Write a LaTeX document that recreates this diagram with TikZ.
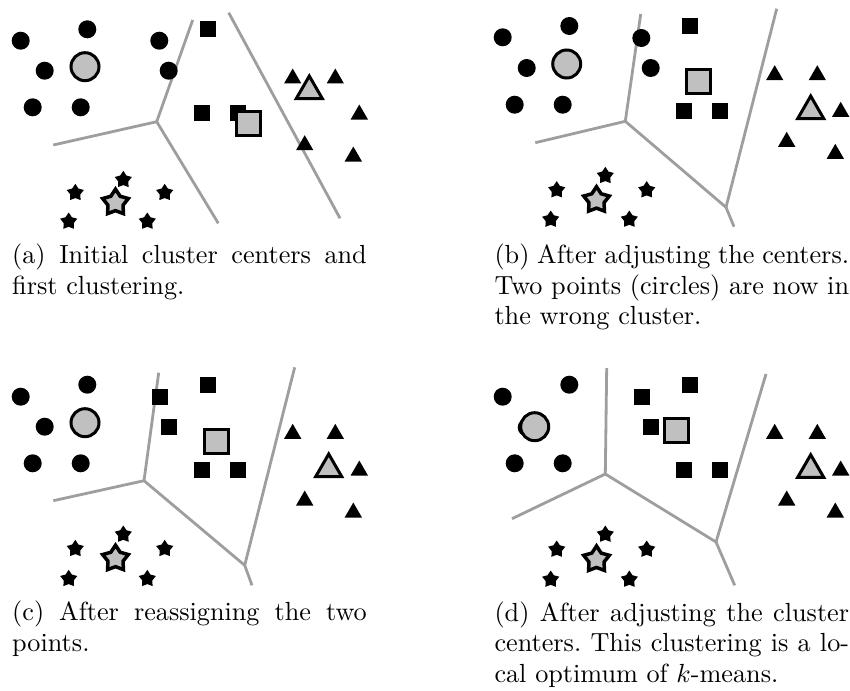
\documentclass[tikz,border=0pt]{standalone}
\usetikzlibrary{shapes.geometric}
\usepackage{graphicx}
\definecolor{markgray}{RGB}{192,192,192}
\definecolor{edgegray}{RGB}{158,158,158}
\tikzset{
  dotmark/.style={circle, fill=black, inner sep=0pt, minimum size=18pt},
  sqmark/.style={rectangle, fill=black, inner sep=0pt, minimum size=16pt},
  trimark/.style={regular polygon, regular polygon sides=3, fill=black, inner sep=0pt,
    minimum size=20pt, yshift=-2.5pt},
  starmark/.style={star, star points=5, star point ratio=1.7, fill=black, inner sep=0pt,
    minimum size=18pt, yshift=-0.8pt},
  ctrmark/.style={fill=markgray, draw=black, line width=3pt, inner sep=0pt},
  ctrdot/.style={ctrmark, circle, minimum size=28pt},
  ctrsq/.style={ctrmark, rectangle, minimum size=24pt},
  ctrtri/.style={ctrmark, regular polygon, regular polygon sides=3, minimum size=30pt, yshift=-3.75pt},
  ctrstar/.style={ctrmark, star, star points=5, star point ratio=1.7, minimum size=27pt,
    line width=3.5pt, yshift=-1.2pt},
  border/.style={draw=edgegray, line width=2.8pt, line join=round},
  capt/.style={anchor=base west, inner sep=0pt, font=\normalsize\frenchspacing},
}
% caption lines: 10pt text enlarged as a whole
\newcommand{\capscale}{2.62}
\newcommand{\fullline}[1]{\scalebox{\capscale}{\makebox[135.34pt][s]{#1}}}
\newcommand{\lastline}[1]{\scalebox{\capscale}{#1}}
\begin{document}
\begin{tikzpicture}[x=1pt, y=-1pt]
\useasboundingbox (0,0) rectangle (850,690);

% ---------- (a) initial centers ----------
\coordinate (aJ) at (156.7,121.7);
\coordinate (aU) at (192.7,20);
\coordinate (aL) at (53.3,145);
\coordinate (aD) at (218.3,223.3);
\coordinate (aR1) at (228.7,12.7);
\coordinate (aR2) at (340,218.3);
\draw[border] (aU) -- (aJ) -- (aD);
\draw[border] (aL) -- (aJ);
\draw[border] (aR1) -- (aR2);
\foreach \p in {(20.7,40.7),(87.3,29.3),(44.7,70.7),(32.7,107.3),(80.7,107.3),(159.3,40.7),(168.7,70.7)}
  \node[dotmark] at \p {};
\foreach \p in {(208,28.7),(202,112.7),(238,112.7)}
  \node[sqmark] at \p {};
\foreach \p in {(292.7,76),(335.3,76),(359.3,112),(304.7,142.7),(353.3,154)}
  \node[trimark] at \p {};
\foreach \p in {(123.3,179),(75.3,192),(164.7,192),(68.7,220.7),(147.3,220.7)}
  \node[starmark] at \p {};
\node[ctrdot] (aC1) at (85,66.7) {};
\node[ctrsq] (aC2) at (248.7,123.3) {};
\node[ctrtri] (aC3) at (309.3,87.3) {};
\node[ctrstar] (aC4) at (115.5,201.5) {};
\node[capt] (capA1) at (12,263.3) {\fullline{(a) Initial cluster centers and}};
\node[capt] (capA2) at (12,294) {\lastline{first clustering.}};

% ---------- (b) centers moved ----------
\coordinate (bJ) at (625.3,121.3);
\coordinate (bU) at (640.7,14);
\coordinate (bL) at (535.3,142.7);
\coordinate (bK) at (726,207.3);
\coordinate (bD) at (734,226.7);
\coordinate (bR) at (776.7,8.7);
\draw[border] (bU) -- (bJ) -- (bK) -- (bD);
\draw[border] (bL) -- (bJ);
\draw[border] (bK) -- (bR);
\foreach \p in {(502.7,37.3),(569.3,26),(526.7,68),(514.7,104.7),(562.7,104.7),(641.3,38),(650.7,68)}
  \node[dotmark] at \p {};
\foreach \p in {(690,26),(684,110.7),(720,110.7)}
  \node[sqmark] at \p {};
\foreach \p in {(774.7,72.7),(817.3,72.7),(840.7,109.3),(786.7,139.3),(835.3,151.3)}
  \node[trimark] at \p {};
\foreach \p in {(605.3,175),(556.7,189.3),(646.7,189.3),(550.7,218.7),(629.3,218.7)}
  \node[starmark] at \p {};
\node[ctrdot] (bC1) at (566.7,64) {};
\node[ctrsq] (bC2) at (698,82) {};
\node[ctrtri] (bC3) at (810.7,107.3) {};
\node[ctrstar] (bC4) at (596.5,199) {};
\node[capt] (capB1) at (494.3,263.3) {\fullline{(b) After adjusting the centers.}};
\node[capt] (capB2) at (494.3,294) {\fullline{Two points (circles) are now in}};
\node[capt] (capB3) at (494.3,324.6) {\lastline{the wrong cluster.}};

% ---------- (c) points reassigned ----------
\coordinate (cJ) at (144,480.7);
\coordinate (cU) at (158.7,372.7);
\coordinate (cL) at (53.3,500.7);
\coordinate (cK) at (244.7,565.3);
\coordinate (cD) at (252,585.3);
\coordinate (cR) at (294.7,367.3);
\draw[border] (cU) -- (cJ) -- (cK) -- (cD);
\draw[border] (cL) -- (cJ);
\draw[border] (cK) -- (cR);
\foreach \p in {(20.7,396.7),(87.3,384.7),(44.7,426.7),(32.7,463.3),(80.7,463.3)}
  \node[dotmark] at \p {};
\foreach \p in {(160,396.7),(208,384.7),(168.7,426.7),(202,470),(238,470)}
  \node[sqmark] at \p {};
\foreach \p in {(292.7,431.3),(335.3,431.3),(359.3,468),(304.7,498),(353.3,510)}
  \node[trimark] at \p {};
\foreach \p in {(123.3,533.7),(75.3,548),(164.7,548),(68.7,578),(147.3,578)}
  \node[starmark] at \p {};
\node[ctrdot] (cC1) at (85,422.7) {};
\node[ctrsq] (cC2) at (216,441.3) {};
\node[ctrtri] (cC3) at (328.7,465.3) {};
\node[ctrstar] (cC4) at (115.5,557.5) {};
\node[capt] (capC1) at (12,620.7) {\fullline{(c) After reassigning the two}};
\node[capt] (capC2) at (12,651.5) {\lastline{points.}};

% ---------- (d) local optimum ----------
\coordinate (dJ) at (605.3,474);
\coordinate (dU) at (606.7,368);
\coordinate (dL) at (512,518.7);
\coordinate (dK) at (716,542);
\coordinate (dD) at (734.7,585.3);
\coordinate (dR) at (766,374);
\draw[border] (dU) -- (dJ) -- (dK) -- (dD);
\draw[border] (dL) -- (dJ);
\draw[border] (dK) -- (dR);
\foreach \p in {(502.7,396.7),(569.3,384.7),(526.7,427.4),(514.7,463.3),(562.7,463.3)}
  \node[dotmark] at \p {};
\foreach \p in {(642,396.7),(690,384.7),(650.7,426.7),(684,470),(720,470)}
  \node[sqmark] at \p {};
\foreach \p in {(774.7,431.3),(817.3,431.3),(840.7,468),(786.7,498),(835.3,510)}
  \node[trimark] at \p {};
\foreach \p in {(605.3,533.7),(556.7,548.7),(646.7,548.7),(550.7,578.7),(629.3,578.7)}
  \node[starmark] at \p {};
\node[ctrdot] (dC1) at (534.7,426.7) {};
\node[ctrsq] (dC2) at (676.7,430) {};
\node[ctrtri] (dC3) at (810.7,466) {};
\node[ctrstar] (dC4) at (596.5,558.3) {};
\node[capt] (capD1) at (494.3,621) {\fullline{(d) After adjusting the cluster}};
\node[capt] (capD2) at (494.3,651.6) {\fullline{centers. This clustering is a lo-}};
\node[capt] (capD3) at (494.3,682.2) {\lastline{cal optimum of $k$-means.}};
\end{tikzpicture}
\end{document}
